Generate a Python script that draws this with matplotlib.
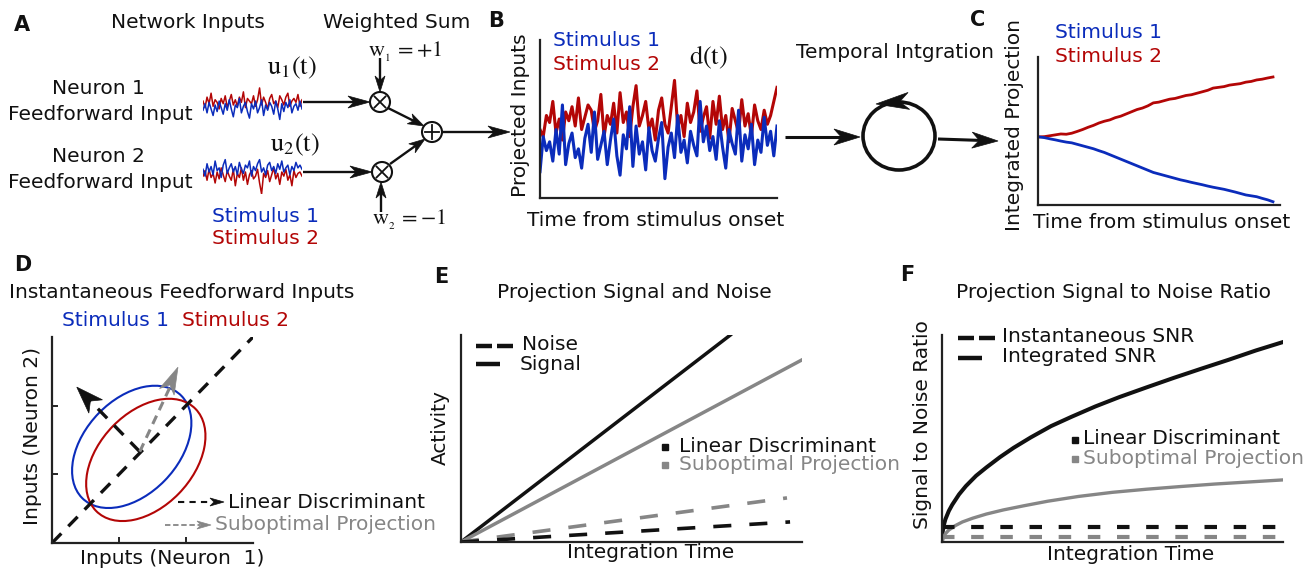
import matplotlib
matplotlib.use("Agg")
import matplotlib.pyplot as plt
import numpy as np
from matplotlib.patches import Circle, Ellipse, Polygon

W, H = 1313, 572
plt.rcParams['font.family'] = ['DejaVu Sans']
plt.rcParams['mathtext.fontset'] = 'stix'
FS = 14.5

BLUE = "#0b2cbb"
RED = "#b30606"
GRAY = "#868686"
INK = "#111111"

# ---- panel A: raw feedforward inputs (two neurons, two stimuli)
a1_red = [0.3, -0.2, 0.6, 0.1, 0.9, -0.1, 0.4, 0.2, -0.3, 0.5, 0.1, 0.7, -0.2, 0.3, 0.8, 0.0,
          0.4, -0.1, 0.6, 0.2, 1.0, -0.2, 0.5, 0.3, 0.1, 0.7, -0.1, 0.4, 1.3, 0.0, 0.6, 0.2,
          -0.3, 0.5, 0.8, 0.1, 0.3, -0.2, 0.7, 0.4, 0.0, 0.6, 0.9, -0.1, 0.3, 0.5, 0.2, 0.8,
          -0.1, 0.4]
a1_blue = [-0.4, 0.1, -0.6, 0.2, -0.3, -0.8, 0.0, -0.5, 0.3, -0.2, -0.7, 0.1, -0.4, 0.4, -0.3,
           -0.9, 0.0, -0.2, 0.5, -0.6, -0.1, 0.2, -0.5, -1.0, 0.1, -0.3, 0.3, -0.6, -0.2, 0.4,
           -0.8, 0.0, -0.4, 0.2, -0.1, -0.7, 0.3, -0.3, -1.1, 0.1, -0.5, 0.2, -0.2, 0.4, -0.6,
           -0.1, 0.1, -0.4, 0.3, -0.3]
a2_red = [-0.3, 0.1, -0.6, 0.2, -0.4, -0.1, -0.8, 0.0, -0.5, 0.3, -0.2, -0.7, 0.1, -0.3, -0.6,
          0.2, -1.0, -0.1, -0.4, 0.3, -0.6, 0.0, -0.9, -0.2, 0.1, -0.5, -0.3, 0.2, -0.8, -1.6,
          -0.1, -0.4, 0.1, -0.7, -0.2, 0.3, -0.5, -0.1, -0.9, 0.0, -0.3, 0.2, -0.6, -0.2, -1.0,
          0.1, -0.4, -0.1, 0.0, -0.3]
a2_blue = [0.2, -0.3, 0.6, 0.0, 0.4, -0.2, 0.8, 0.1, 0.3, -0.4, 0.5, 0.9, -0.1, 0.3, 0.6, 0.0,
           0.4, -0.2, 0.7, 0.2, -0.1, 0.5, 0.3, 0.8, -0.3, 0.4, 0.1, 0.6, 0.9, 0.0, 0.3, -0.2,
           0.5, 0.7, 0.1, 0.4, -0.1, 0.6, 0.2, 0.8, 0.0, 0.3, 0.5, -0.2, 0.4, 0.1, 0.7, 0.3,
           0.5, 0.2]

# ---- panel B: projected inputs d(t)
b_red = [0.42, 0.38, 0.50, 0.46, 0.58, 0.40, 0.48, 0.36, 0.52, 0.47, 0.55, 0.44, 0.60, 0.42,
         0.49, 0.56, 0.53, 0.41, 0.47, 0.62, 0.38, 0.50, 0.45, 0.57, 0.40, 0.63, 0.46, 0.52,
         0.38, 0.55, 0.67, 0.44, 0.50, 0.58, 0.42, 0.48, 0.36, 0.53, 0.60, 0.45, 0.40, 0.55,
         0.70, 0.43, 0.50, 0.38, 0.57, 0.46, 0.52, 0.64, 0.41, 0.49, 0.55, 0.37, 0.58, 0.45,
         0.61, 0.42, 0.50, 0.35, 0.54, 0.47, 0.40, 0.59, 0.44, 0.51, 0.38, 0.56, 0.47, 0.42,
         0.53, 0.45, 0.50, 0.58, 0.66]
b_blue = [0.18, 0.38, 0.30, 0.35, 0.24, 0.42, 0.28, 0.56, 0.22, 0.34, 0.40, 0.26, 0.31, 0.20,
          0.37, 0.45, 0.29, 0.52, 0.25, 0.33, 0.41, 0.22, 0.36, 0.48, 0.27, 0.16, 0.39, 0.31,
          0.55, 0.21, 0.44, 0.28, 0.35, 0.19, 0.43, 0.30, 0.24, 0.37, 0.46, 0.14, 0.32, 0.40,
          0.26, 0.50, 0.29, 0.36, 0.23, 0.41, 0.33, 0.27, 0.58, 0.35, 0.44, 0.30, 0.38, 0.25,
          0.47, 0.32, 0.20, 0.42, 0.34, 0.28, 0.53, 0.24, 0.39, 0.31, 0.45, 0.22, 0.36, 0.29,
          0.49, 0.33, 0.41, 0.27, 0.44]

# ---- panel C: integrated projection
c_red = [0.46, 0.462, 0.468, 0.474, 0.48, 0.478, 0.485, 0.497, 0.51, 0.525, 0.538, 0.554,
         0.566, 0.575, 0.59, 0.60, 0.615, 0.63, 0.645, 0.655, 0.67, 0.69, 0.695, 0.705, 0.715,
         0.72, 0.73, 0.74, 0.745, 0.755, 0.765, 0.775, 0.79, 0.795, 0.80, 0.81, 0.815, 0.82,
         0.83, 0.835, 0.845, 0.85, 0.858, 0.865]
c_blue = [0.46, 0.455, 0.447, 0.44, 0.432, 0.425, 0.42, 0.41, 0.40, 0.39, 0.38, 0.367, 0.355,
          0.34, 0.325, 0.31, 0.295, 0.28, 0.265, 0.25, 0.235, 0.22, 0.21, 0.2, 0.19,
          0.18, 0.17, 0.162, 0.153, 0.145, 0.137, 0.128, 0.12, 0.113, 0.106, 0.097, 0.088,
          0.078, 0.068, 0.062, 0.056, 0.045, 0.035, 0.022]

# ---- panel D: stimulus clouds (centre x, centre y, width, height, angle)
ell_blue = (1.19, 1.40, 2.1, 1.39, 45)
ell_red = (1.40, 1.21, 2.1, 1.39, 45)
disc_start, disc_end = (1.31, 1.33), (0.37, 2.27)
subopt_end = (1.88, 2.56)

# ---- panel E: signal / noise growth (end points, start at origin)
e_sig_opt = (0.79, 1.0)
e_sig_sub = (1.0, 0.88)
e_noise_sub = (0.956, 0.213)
e_noise_opt = (0.965, 0.097)

# ---- panel F: SNR vs integration time
f_x_opt = [0, 0.002, 0.005, 0.01, 0.02, 0.03, 0.05, 0.07, 0.10, 0.13, 0.17, 0.21, 0.26, 0.32,
           0.38, 0.45, 0.52, 0.60, 0.68, 0.76, 0.84, 0.92, 1.0]
f_opt = [0, 0.05, 0.08, 0.11, 0.15, 0.18, 0.23, 0.27, 0.32, 0.36, 0.41, 0.455, 0.505, 0.56,
         0.605, 0.655, 0.70, 0.747, 0.793, 0.837, 0.88, 0.925, 0.966]
f_x_sub = [0, 0.003, 0.01, 0.02, 0.04, 0.06, 0.09, 0.13, 0.18, 0.24, 0.31, 0.40, 0.50, 0.60,
           0.70, 0.80, 0.90, 1.0]
f_sub = [0, 0.02, 0.04, 0.058, 0.08, 0.097, 0.115, 0.135, 0.155, 0.175, 0.197, 0.22, 0.24,
         0.255, 0.268, 0.28, 0.29, 0.30]
f_inst_opt = 0.072
f_inst_sub = 0.024

fig = plt.figure(figsize=(W / 100, H / 100), dpi=100)


def pax(x0, y0, x1, y1):
    ax = fig.add_axes([x0 / W, 1 - y1 / H, (x1 - x0) / W, (y1 - y0) / H])
    ax.set_facecolor('none')
    return ax


def lframe(ax, lw=1.6):
    for s in ('top', 'right'):
        ax.spines[s].set_visible(False)
    for s in ('left', 'bottom'):
        ax.spines[s].set_linewidth(lw)
        ax.spines[s].set_color('#222222')
    ax.set_xticks([])
    ax.set_yticks([])


# A noise traces
for (y0, y1), red, blue in [((84, 126), a1_red, a1_blue), ((150, 194), a2_red, a2_blue)]:
    ax = pax(203, y0, 302, y1)
    ax.plot(red, color=RED, lw=1.1)
    ax.plot(blue, color=BLUE, lw=1.1)
    ax.set_xlim(0, len(red) - 1)
    ax.set_ylim(-1.6, 1.6)
    ax.set_axis_off()

# B
axb = pax(540, 40, 777, 198)
axb.plot(b_red, color=RED, lw=2.2)
axb.plot(b_blue, color=BLUE, lw=2.2)
axb.set_xlim(0, len(b_red) - 1)
axb.set_ylim(0.03, 0.93)
lframe(axb)

# C
axc = pax(1038, 57, 1280, 205)
axc.plot(c_red, color=RED, lw=2.0)
axc.plot(c_blue, color=BLUE, lw=2.0)
axc.set_xlim(-0.2, (len(c_red) - 1) * 1.03)
axc.set_ylim(0, 1)
lframe(axc)

# D
axd = pax(52, 337, 253, 543)
for (cx, cy, w, h, ang), col in [(ell_blue, BLUE), (ell_red, RED)]:
    axd.add_patch(Ellipse((cx, cy), w, h, angle=ang, fill=False, ec=col, lw=1.5))
axd.plot([0, 3], [0, 3], color=INK, lw=2.4, ls=(0, (4, 3)))
axd.plot([disc_start[0], disc_end[0] + 0.2], [disc_start[1], disc_end[1] - 0.2],
         color=INK, lw=2.4, ls=(0, (4, 3)))
axd.plot([disc_start[0], subopt_end[0] - 0.1], [disc_start[1], subopt_end[1] - 0.25],
         color=GRAY, lw=2.2, ls=(0, (3, 2)))
axd.set_xlim(0, 3)
axd.set_ylim(0, 3)
lframe(axd)
axd.set_xticks([1, 2])
axd.set_yticks([1, 2])
axd.tick_params(direction='in', length=4, width=1.2, labelbottom=False, labelleft=False)

# E
axe = pax(461, 335, 802, 542)
axe.plot([0, e_sig_opt[0]], [0, e_sig_opt[1]], color=INK, lw=2.5)
axe.plot([0, e_sig_sub[0]], [0, e_sig_sub[1]], color=GRAY, lw=2.5)
axe.plot([0, e_noise_sub[0]], [0, e_noise_sub[1]], color=GRAY, lw=2.6, ls=(0, (5, 5)))
axe.plot([0, e_noise_opt[0]], [0, e_noise_opt[1]], color=INK, lw=2.6, ls=(0, (5, 5)))
axe.set_xlim(0, 1)
axe.set_ylim(0, 1)
lframe(axe)

# F
axf = pax(942, 335, 1283, 542)
axf.plot(f_x_opt, f_opt, color=INK, lw=2.9)
axf.plot(f_x_sub, f_sub, color=GRAY, lw=2.4)
axf.plot([0, 0.98], [f_inst_opt, f_inst_opt], color=INK, lw=3, ls=(0, (3, 4)))
axf.plot([0, 0.98], [f_inst_sub, f_inst_sub], color=GRAY, lw=3, ls=(0, (3, 4)))
axf.set_xlim(0, 1)
axf.set_ylim(0, 1)
lframe(axf)

# ---- overlay in pixel coordinates for text, arrows and schematic glyphs
ov = fig.add_axes([0, 0, 1, 1], zorder=10)
ov.set_xlim(0, W)
ov.set_ylim(H, 0)
ov.set_axis_off()


def txt(x, y, s, ha='center', color=INK, size=FS, **kw):
    ov.text(x, y, s, ha=ha, va='center', color=color, fontsize=size, **kw)


def head(tip, frm, L, Wd, color=INK):
    tip = np.asarray(tip, float)
    u = tip - np.asarray(frm, float)
    u /= np.hypot(*u)
    n = np.array([-u[1], u[0]])
    back = tip - L * u
    pts = [tip, back + n * Wd / 2, tip - 0.72 * L * u, back - n * Wd / 2]
    ov.add_patch(Polygon(pts, closed=True, fc=color, ec=color, lw=0.5))
    return tip - 0.6 * L * u


def arrow(x0, y0, x1, y1, lw=1.7, L=18, Wd=12, color=INK):
    end = head((x1, y1), (x0, y0), L, Wd, color)
    ov.plot([x0, end[0]], [y0, end[1]], color=color, lw=lw, solid_capstyle='butt')


def to_px(ax, pt):
    return ov.transData.inverted().transform(ax.transData.transform(pt))


def op(cx, cy, kind):
    ov.add_patch(Circle((cx, cy), 10, fill=False, lw=1.5, ec=INK))
    if kind == 'x':
        d = 5.5
        ov.plot([cx - d, cx + d], [cy - d, cy + d], color=INK, lw=1.3)
        ov.plot([cx - d, cx + d], [cy + d, cy - d], color=INK, lw=1.3)
    else:
        d = 7
        ov.plot([cx - d, cx + d], [cy, cy], color=INK, lw=1.3)
        ov.plot([cx, cx], [cy - d, cy + d], color=INK, lw=1.3)


# panel letters
for x, y, s in [(14, 25, "A"), (488, 21, "B"), (970, 20, "C"), (14, 265, "D"),
                (434, 277, "E"), (900, 275, "F")]:
    txt(x, y, s, ha='left', size=15, weight='bold')

# A
txt(188, 23, "Network Inputs")
txt(397, 23, "Weighted Sum")
txt(98, 89, "Neuron 1")
txt(100, 115, "Feedforward Input")
txt(98, 157, "Neuron 2")
txt(100, 182, "Feedforward Input")
txt(266, 216, "Stimulus 1", color=BLUE)
txt(266, 238, "Stimulus 2", color=RED)
txt(292, 68, r"$\mathrm{u_1(t)}$", size=19)
txt(295, 145, r"$\mathrm{u_2(t)}$", size=19)
txt(368, 52, r"$\mathrm{w_{_1}\,{=}{+}1}$", ha='left', size=16)
txt(372, 220, r"$\mathrm{w_{_2}\,{=}{-}1}$", ha='left', size=16)
op(380, 102, 'x')
op(382, 172, 'x')
op(432, 132, '+')
arrow(380, 58, 380, 92, L=16, Wd=10)
arrow(381, 212, 381, 182, L=16, Wd=10)
arrow(303, 102, 370, 102, L=22, Wd=12)
arrow(303, 172, 372, 172, L=22, Wd=12)
arrow(388, 108, 424, 126, L=16, Wd=11)
arrow(390, 164, 425, 139, L=16, Wd=11)
arrow(442, 132, 510, 132, L=22, Wd=12)

# B
txt(553, 40, "Stimulus 1", ha='left', color=BLUE)
txt(553, 64, "Stimulus 2", ha='left', color=RED)
txt(708, 57, r"$\mathrm{d(t)}$", size=19)
txt(520, 115, "Projected Inputs", rotation=90)
txt(656, 220, "Time from stimulus onset")
txt(895, 53, "Temporal Intgration")
arrow(785, 137, 860, 137, lw=2.2, L=26, Wd=16)
ov.add_patch(Ellipse((899, 136), 72, 68, fill=False, lw=2.6, ec=INK))
head((876, 104), (908, 101), 33, 17)
arrow(938, 139, 998, 141, lw=2.2, L=26, Wd=16)

# C
txt(1055, 32, "Stimulus 1", ha='left', color=BLUE)
txt(1055, 57, "Stimulus 2", ha='left', color=RED)
txt(1015, 125, "Integrated Projection", rotation=90)
txt(1162, 223, "Time from stimulus onset")

# D
txt(182, 292, "Instantaneous Feedforward Inputs")
txt(115, 320, "Stimulus 1", color=BLUE)
txt(236, 320, "Stimulus 2", color=RED)
txt(172, 558, "Inputs (Neuron  1)")
txt(33, 436, "Inputs (Neuron 2)", rotation=90)
head(to_px(axd, disc_end), to_px(axd, disc_start), 27, 19)
head(to_px(axd, subopt_end), to_px(axd, disc_start), 27, 16, color=GRAY)
ov.plot([178, 212], [502, 502], color=INK, lw=1.5, ls=(0, (3, 2.5)))
head((224, 502), (178, 502), 14, 8)
txt(228, 502, "Linear Discriminant", ha='left')
ov.plot([165, 200], [525, 525], color=GRAY, lw=1.3, ls=(0, (3, 1.5)))
head((211, 525), (165, 525), 14, 8, color=GRAY)
txt(215, 525, "Suboptimal Projection", ha='left', color=GRAY)

# E
txt(634, 293, "Projection Signal and Noise")
txt(440, 428, "Activity", rotation=90)
txt(651, 553, "Integration Time")
ov.plot([476, 492], [346, 346], color=INK, lw=3.2, solid_capstyle='butt')
ov.plot([497, 513], [346, 346], color=INK, lw=3.2, solid_capstyle='butt')
ov.plot([476, 500], [364, 364], color=INK, lw=3.2, solid_capstyle='butt')
txt(522, 345, "Noise", ha='left')
txt(520, 364, "Signal", ha='left')
ov.plot([665], [447], marker='s', ms=4, color=INK)
ov.plot([665], [465], marker='s', ms=4, color=GRAY)
txt(679, 446, "Linear Discriminant", ha='left')
txt(679, 464, "Suboptimal Projection", ha='left', color=GRAY)

# F
txt(1114, 293, "Projection Signal to Noise Ratio")
txt(922, 425, "Signal to Noise Ratio", rotation=90)
txt(1131, 555, "Integration Time")
ov.plot([958, 974], [338, 338], color=INK, lw=3.2, solid_capstyle='butt')
ov.plot([979, 995], [338, 338], color=INK, lw=3.2, solid_capstyle='butt')
ov.plot([958, 982], [358, 358], color=INK, lw=3.2, solid_capstyle='butt')
txt(1002, 337, "Instantaneous SNR", ha='left')
txt(1002, 357, "Integrated SNR", ha='left')
ov.plot([1075], [440], marker='s', ms=4, color=INK)
ov.plot([1075], [459], marker='s', ms=4, color=GRAY)
txt(1083, 439, "Linear Discriminant", ha='left')
txt(1083, 458, "Suboptimal Projection", ha='left', color=GRAY)

fig.savefig("out.png", dpi=100)
